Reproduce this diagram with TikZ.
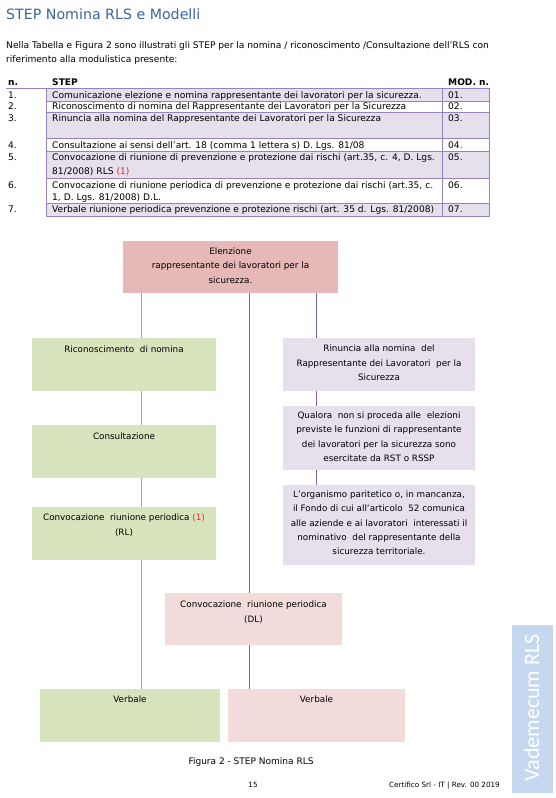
\documentclass[tikz,border=0pt]{standalone}
\usepackage{fontspec}
\setmainfont{DejaVu Sans}
\newfontfamily\sidefont{Carlito}
\definecolor{titleblue}{RGB}{60,100,160}
\definecolor{cTop}{RGB}{230,185,184}
\definecolor{cGreen}{RGB}{215,228,189}
\definecolor{cPurple}{RGB}{229,224,236}
\definecolor{cPink}{RGB}{242,220,219}
\definecolor{lGreen}{RGB}{155,187,89}
\definecolor{lRed}{RGB}{192,80,77}
\definecolor{lPurple}{RGB}{128,100,162}
\definecolor{tBorder}{RGB}{150,130,190}
\definecolor{tFill}{RGB}{229,224,236}
\definecolor{sideBlue}{RGB}{198,216,240}
\definecolor{fnRed}{RGB}{235,40,40}
\begin{document}
\begin{tikzpicture}[x=1pt,y=-1pt,
  box/.style={inner sep=0, outer sep=0, anchor=north west},
  ftxt/.style={inner sep=0, align=center, anchor=north, font=\fontsize{8.8}{14.4}\selectfont},
  ttxt/.style={inner sep=0, anchor=base west, font=\fontsize{9.1}{13}\selectfont},
  tbold/.style={inner sep=0, anchor=base west, font=\fontsize{9.1}{13}\selectfont\bfseries},
  trow/.style={draw=tBorder, line width=0.6pt},
  gline/.style={draw=lGreen, line width=0.8pt},
  rline/.style={draw=lRed, line width=0.8pt},
  pline/.style={draw=lPurple, line width=0.8pt}]
\useasboundingbox (0,0) rectangle (556,798);
\fill[white] (0,0) rectangle (556,798);

% title and intro
\node[inner sep=0, anchor=base west, text=titleblue, font=\fontsize{14.2}{16}\selectfont] (title) at (6,19) {STEP Nomina RLS e Modelli};
\node[ttxt] (intro1) at (6,48) {Nella Tabella e Figura 2 sono illustrati gli STEP per la nomina / riconoscimento /Consultazione dell’RLS con};
\node[ttxt] (intro2) at (6,62) {riferimento alla modulistica presente:};

% table header
\node[tbold] (hn) at (8,85) {n.};
\node[tbold] (hs) at (52,85) {STEP};
\node[tbold] (hm) at (448,85) {MOD. n.};
\draw[trow] (6,88) -- (489,88);

% table rows
\foreach \ya/\yb/\fc in {88/101/tFill,101/112/white,112/138/tFill,138/151/white,151/178/tFill,178/203/white,203/216/tFill}{
  \draw[trow, fill=\fc] (46,\ya) rectangle (442,\yb);
  \draw[trow, fill=\fc] (442,\ya) rectangle (489,\yb);
}
\node[ttxt] (n1) at (8,98.5) {1.};
\node[ttxt] (s1) at (52,98.5) {Comunicazione elezione e nomina rappresentante dei lavoratori per la sicurezza.};
\node[ttxt] (m1) at (448,98.5) {01.};
\node[ttxt] (n2) at (8,109.5) {2.};
\node[ttxt] (s2) at (52,109.5) {Riconoscimento di nomina del Rappresentante dei Lavoratori per la Sicurezza};
\node[ttxt] (m2) at (448,109.5) {02.};
\node[ttxt] (n3) at (8,121.5) {3.};
\node[ttxt] (s3) at (52,121.5) {Rinuncia alla nomina del Rappresentante dei Lavoratori per la Sicurezza};
\node[ttxt] (m3) at (448,121.5) {03.};
\node[ttxt] (n4) at (8,148) {4.};
\node[ttxt] (s4) at (52,148) {Consultazione ai sensi dell’art. 18 (comma 1 lettera s) D. Lgs. 81/08};
\node[ttxt] (m4) at (448,148) {04.};
\node[ttxt] (n5) at (8,160) {5.};
\node[ttxt] (s5a) at (52,160) {Convocazione di riunione di prevenzione e protezione dai rischi (art.35, c. 4, D. Lgs.};
\node[ttxt] (s5b) at (52,174) {81/2008) RLS \textcolor{fnRed}{(1)}};
\node[ttxt] (m5) at (448,160) {05.};
\node[ttxt] (n6) at (8,188) {6.};
\node[ttxt] (s6a) at (52,188) {Convocazione di riunione periodica di prevenzione e protezione dai rischi (art.35, c.};
\node[ttxt] (s6b) at (52,200) {1, D. Lgs. 81/2008) D.L.};
\node[ttxt] (m6) at (448,188) {06.};
\node[ttxt] (n7) at (8,212.5) {7.};
\node[ttxt] (s7) at (52,212.5) {Verbale riunione periodica prevenzione e protezione rischi (art. 35 d. Lgs. 81/2008)};
\node[ttxt] (m7) at (448,212.5) {07.};

% flowchart boxes
\node[box, fill=cTop, minimum width=215, minimum height=52] (elez) at (123,241) {};
\node[box, fill=cGreen, minimum width=184, minimum height=53] (ric) at (32,338) {};
\node[box, fill=cGreen, minimum width=184, minimum height=53] (cons) at (32,425) {};
\node[box, fill=cGreen, minimum width=184, minimum height=53] (convrl) at (32,507) {};
\node[box, fill=cPurple, minimum width=192, minimum height=53] (rin) at (283,338) {};
\node[box, fill=cPurple, minimum width=192, minimum height=64] (qual) at (283,406) {};
\node[box, fill=cPurple, minimum width=192, minimum height=80] (org) at (283,485) {};
\node[box, fill=cPink, minimum width=177, minimum height=52] (convdl) at (165,593) {};
\node[box, fill=cGreen, minimum width=180, minimum height=53] (verbg) at (40,689) {};
\node[box, fill=cPink, minimum width=177, minimum height=53] (verbp) at (228,689) {};

% box texts
\node[ftxt] (elezT) at ([yshift=-6.5pt]elez.north) {Elenzione\\rappresentante dei lavoratori per la\\sicurezza.};
\node[ftxt] (ricT) at ([yshift=-8pt]ric.north) {Riconoscimento\ \ di nomina};
\node[ftxt] (consT) at ([yshift=-8pt]cons.north) {Consultazione};
\node[ftxt] (convrlT) at ([yshift=-7pt]convrl.north) {Convocazione\ \ riunione periodica \textcolor{fnRed}{(1)}\\(RL)};
\node[ftxt] (rinT) at ([yshift=-7pt]rin.north) {Rinuncia alla nomina\ \ del\\Rappresentante dei Lavoratori\ \ per la\\Sicurezza};
\node[ftxt] (qualT) at ([yshift=-5.5pt]qual.north) {Qualora\ \ non si proceda alle\ \ elezioni\\previste le funzioni di rappresentante\\dei lavoratori per la sicurezza sono\\esercitate da RST o RSSP};
\node[ftxt] (orgT) at ([yshift=-5.5pt]org.north) {L’organismo paritetico o, in mancanza,\\il Fondo di cui all’articolo\ \ 52 comunica\\alle aziende e ai lavoratori\ \ interessati il\\nominativo\ \ del rappresentante della\\sicurezza territoriale.};
\node[ftxt] (convdlT) at ([yshift=-8pt]convdl.north) {Convocazione\ \ riunione periodica\\(DL)};
\node[ftxt] (verbgT) at ([yshift=-7pt]verbg.north) {Verbale};
\node[ftxt] (verbpT) at ([yshift=-7pt]verbp.north) {Verbale};

% connectors
\coordinate (gx) at (141,0);
\coordinate (rx) at (249,0);
\coordinate (px) at (316,0);
\draw[gline] (elez.south -| gx) -- (ric.north -| gx);
\draw[gline] (ric.south -| gx) -- (cons.north -| gx);
\draw[gline] (cons.south -| gx) -- (convrl.north -| gx);
\draw[gline] (convrl.south -| gx) -- (verbg.north -| gx);
\draw[rline] (elez.south -| rx) -- (convdl.north -| rx);
\draw[rline] (convdl.south -| rx) -- (verbp.north -| rx);
\draw[pline] (elez.south -| px) -- (rin.north -| px);
\draw[pline] (rin.south -| px) -- (qual.north -| px);
\draw[pline] (qual.south -| px) -- (org.north -| px);

% caption and footer
\node[inner sep=0, anchor=base, font=\fontsize{9}{11}\selectfont] (cap) at (251,764) {Figura 2 - STEP Nomina RLS};
\node[inner sep=0, anchor=base, font=\fontsize{7.2}{9}\selectfont] (page) at (253,787) {15};
\node[inner sep=0, anchor=base east, font=\fontsize{7.2}{9}\selectfont] (foot) at (500,787) {Certifico Srl - IT | Rev. 00 2019};

% side band
\node[box, fill=sideBlue, minimum width=41, minimum height=168] (side) at (512,625) {};
\node[inner sep=0, rotate=90, text=white, font=\sidefont\fontsize{22}{24}\selectfont] (sideT) at ([xshift=-1pt, yshift=1pt]side.center) {Vademecum RLS};
\end{tikzpicture}
\end{document}
